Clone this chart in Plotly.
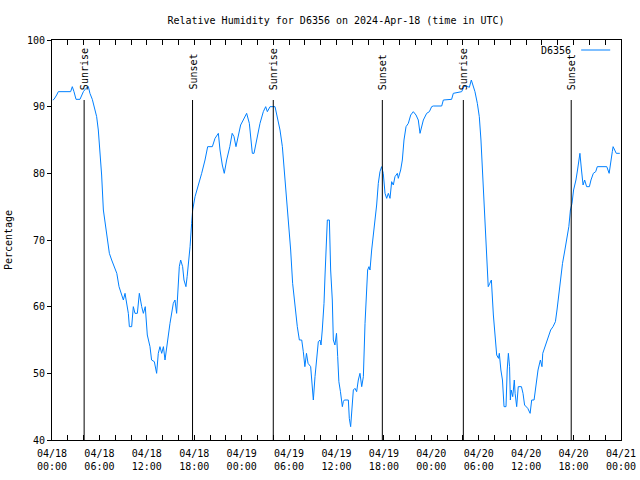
import pandas as pd
import plotly.graph_objects as go

# ---- data (hours after 2024-04-18 00:00 UTC, relative humidity %) ----
start = "2024-04-18 00:00"
hours = [0.1, 0.25, 0.59, 0.8, 2.36, 2.57, 2.78, 3.04, 3.54, 3.97, 4.3, 4.6, 4.8, 5.1, 5.44, 5.65, 5.86,
         6.07, 6.28, 6.5, 6.75, 6.9, 7.13, 7.26, 7.55, 7.85, 8.2, 8.48, 8.73, 9.03, 9.24, 9.45, 9.66,
         9.79, 10.08, 10.29, 10.5, 10.8, 11.05, 11.35, 11.56, 11.8, 12.06, 12.4, 12.6, 12.95, 13.24,
         13.45, 13.66, 13.88, 14.1, 14.3, 14.6, 14.93, 15.35, 15.56, 15.77, 15.9, 16.11, 16.28, 16.53,
         16.7, 16.95, 17.1, 17.25, 17.47, 17.67, 17.8, 18.1, 18.5, 18.94, 19.36, 19.7, 20.29, 20.63,
         21.05, 21.26, 21.55, 21.8, 22.1, 22.5, 22.8, 23.03, 23.28, 23.58, 23.87, 24.2, 24.63, 24.97,
         25.14, 25.35, 25.56, 25.9, 26.32, 26.74, 27.04, 27.25, 27.59, 28.22, 28.51, 28.85, 29.15,
         29.48, 29.78, 29.99, 30.2, 30.45, 30.75, 31.04, 31.3, 31.6, 31.8, 32.0, 32.2, 32.4, 32.73,
         32.94, 33.07, 33.28, 33.49, 33.7, 33.91, 34.04, 34.2, 34.42, 34.55, 34.67, 34.84, 35.1, 35.26,
         35.47, 35.6, 35.8, 36.0, 36.15, 36.3, 36.5, 36.74, 36.86, 36.99, 37.5, 37.62, 37.79, 37.96,
         38.13, 38.34, 38.55, 38.76, 38.97, 39.19, 39.4, 39.61, 39.82, 39.94, 40.11, 40.24, 40.45,
         40.66, 40.87, 41.08, 41.29, 41.5, 41.71, 41.92, 42.14, 42.35, 42.56, 42.77, 42.98, 43.19,
         43.4, 43.7, 43.82, 44.12, 44.33, 44.54, 44.8, 45.09, 45.39, 45.72, 46.06, 46.35, 46.57,
         46.78, 46.99, 47.41, 47.75, 48.04, 48.25, 49.31, 49.52, 50.57, 50.78, 51.84, 52.13, 52.47,
         52.81, 53.06, 53.31, 53.52, 53.82, 54.07, 54.28, 54.45, 54.58, 54.79, 55.0, 55.2, 55.4, 55.6,
         55.85, 56.05, 56.27, 56.5, 56.6, 56.8, 57.0, 57.2, 57.45, 57.6, 57.75, 57.9, 58.0, 58.1,
         58.3, 58.5, 58.6, 58.8, 59.0, 59.4, 59.6, 59.8, 60.2, 60.5, 60.7, 61.0, 61.25, 61.5, 61.8,
         62.0, 62.1, 62.5, 62.8, 63.1, 63.4, 63.7, 63.9, 64.1, 64.3, 64.6, 64.9, 65.2, 65.4, 65.6,
         65.8, 66.0, 66.3, 66.5, 66.7, 66.8, 67.0, 67.2, 67.4, 67.65, 68.0, 68.2, 68.5, 68.8, 69.0,
         70.2, 70.5, 70.7, 70.9, 71.0, 71.2, 71.4, 71.85]
humidity = [91, 91.1, 91.75, 92.25, 92.25, 93, 92.25, 91.1, 91.1, 92.25, 92.75, 93, 92, 91.1, 89.5, 88.5, 86.5,
            83.5, 79.75, 74.5, 72.5, 71.5, 69.5, 68, 67, 66, 65, 63, 62, 61, 62, 60.5, 59,
            57, 57, 60, 59, 59, 62, 60, 59, 60, 55.75, 54, 52, 51.75, 50,
            53, 54, 53, 54, 52, 55, 57.5, 60.5, 61, 59, 62, 66, 67, 66,
            64, 63, 64.5, 66, 69, 72.5, 74.5, 76.5, 78, 80, 82, 84, 84, 85.25,
            86, 83.5, 81.25, 80, 82, 84, 86, 85.5, 84, 85.5, 87.25, 88, 89, 87.5,
            85, 83, 83, 85, 87.5, 89.25, 90, 89.25, 90, 90, 88.5, 86.5, 84,
            79.5, 75.5, 72.5, 68.5, 63.5, 60, 57, 55, 55, 53.25, 51, 53, 51.5, 51,
            47.5, 46, 49.5, 52.5, 54.75, 55, 54.25, 56.5, 60.5, 64.75, 69.5, 73, 73, 65.5,
            61, 55, 54.25, 56, 52.5, 48.75, 47.25, 45, 45.75, 46, 46, 43.25, 42, 45.5,
            47.5, 47.75, 47.25, 49, 50, 48, 49.5, 57.5, 61.5, 65.5, 66, 65.5, 68.5,
            70.5, 72.5, 75.25, 78.5, 80.25, 81, 80, 77, 76.25, 77, 76.25, 78.75, 78.25,
            79.5, 80, 79.25, 80.5, 82, 85, 87, 87.5, 88.75, 89.25, 88.75, 88, 86,
            87.25, 88, 89, 89.25, 90, 90.1, 90.1, 91, 91.1, 92, 92.25, 93, 93.1,
            92.9, 94, 93, 92.25, 90.5, 88.5, 85, 81, 77, 71.5, 67.75, 63, 63.5, 64,
            58.75, 56.25, 52.75, 52.25, 53, 50.5, 49, 45, 45, 50.5, 53, 51, 46, 47.5,
            46.5, 49, 47, 45, 48, 48, 47, 45.25, 44.75, 44, 46, 46, 48.5, 50.5, 52,
            51, 53, 54.5, 55.5, 56.5, 57, 57.75, 59.5, 61.5, 64, 66.5, 68.5, 70.5, 72, 74.5,
            75.5, 77.5, 79, 80.5, 82, 83, 80.5, 78.25, 79, 78, 78, 79, 80, 80.25, 81,
            81, 80, 82, 83.25, 84, 83.5, 83, 83]

sun_labels = ["Sunrise", "Sunset", "Sunrise", "Sunset", "Sunrise", "Sunset"]
sun_times = ["2024-04-18 04:04", "2024-04-18 17:47", "2024-04-19 04:00",
             "2024-04-19 17:48", "2024-04-20 04:03", "2024-04-20 17:42"]

series_name = "D6356"
title_text = "Relative Humidity for D6356 on 2024-Apr-18 (time in UTC)"
y_title = "Percentage"
x_range = ["2024-04-18 00:00", "2024-04-21 00:00"]
y_range = [40, 100]

# ---- figure ----
FONT = "DejaVu Sans Mono"
LINE_COLOR = "#0080ff"

times = pd.Timestamp(start) + pd.to_timedelta(hours, unit="h")

fig = go.Figure()
fig.add_trace(go.Scatter(x=times, y=humidity, mode="lines", name=series_name,
                         line=dict(color=LINE_COLOR, width=1), showlegend=False))

for lab, t in zip(sun_labels, sun_times):
    fig.add_shape(type="line", x0=t, x1=t, xref="x", y0=0, y1=0.85, yref="y domain",
                  line=dict(color="black", width=1))
    fig.add_annotation(x=t, xref="x", y=0.87, yref="y domain", text=lab, textangle=-90,
                       showarrow=False, xanchor="center", yanchor="bottom",
                       font=dict(family=FONT, size=10, color="black"))

# legend (text on the left, sample line on the right, like the original)
fig.add_annotation(x=0.916, y=0.975, xref="paper", yref="paper", text=series_name,
                   showarrow=False, xanchor="right", yanchor="middle",
                   font=dict(family=FONT, size=10, color="black"))
fig.add_shape(type="line", x0=0.93, x1=0.981, y0=0.975, y1=0.975, xref="paper", yref="paper",
              line=dict(color=LINE_COLOR, width=1))

fig.update_layout(
    width=640, height=480,
    margin=dict(l=52, r=19, t=40, b=40, autoexpand=False),
    paper_bgcolor="white", plot_bgcolor="white",
    font=dict(family=FONT, size=10, color="black"),
    title=dict(text=title_text, x=336 / 640, xanchor="center", y=1 - 20 / 480,
               yanchor="middle", yref="container", font=dict(family=FONT, size=10, color="black")),
    xaxis=dict(type="date", range=x_range, dtick=6 * 3600 * 1000, tick0="2024-04-18 00:00",
               tickformat="%m/%d<br>%H:%M", ticks="inside", ticklen=5, tickcolor="black",
               showline=True, linecolor="black", linewidth=1, mirror="ticks",
               showgrid=False, zeroline=False, ticklabelstandoff=4,
               minor=dict(dtick=2 * 3600 * 1000, ticks="inside", ticklen=5, tickcolor="black",
                          showgrid=False)),
    yaxis=dict(range=y_range, dtick=10, ticks="outside", ticklen=4, tickcolor="black",
               showline=True, linecolor="black", linewidth=1, mirror=True,
               showgrid=False, zeroline=False,
               title=dict(text=y_title, standoff=12, font=dict(family=FONT, size=10))),
    yaxis2=dict(range=y_range, dtick=10, overlaying="y", side="right", ticks="inside",
                ticklen=5, tickcolor="black", showticklabels=False, showgrid=False,
                zeroline=False, showline=False),
)

fig.write_html("out.html", config={"displayModeBar": False},
               post_script="document.body.style.margin='0';document.body.style.overflow='hidden';")
